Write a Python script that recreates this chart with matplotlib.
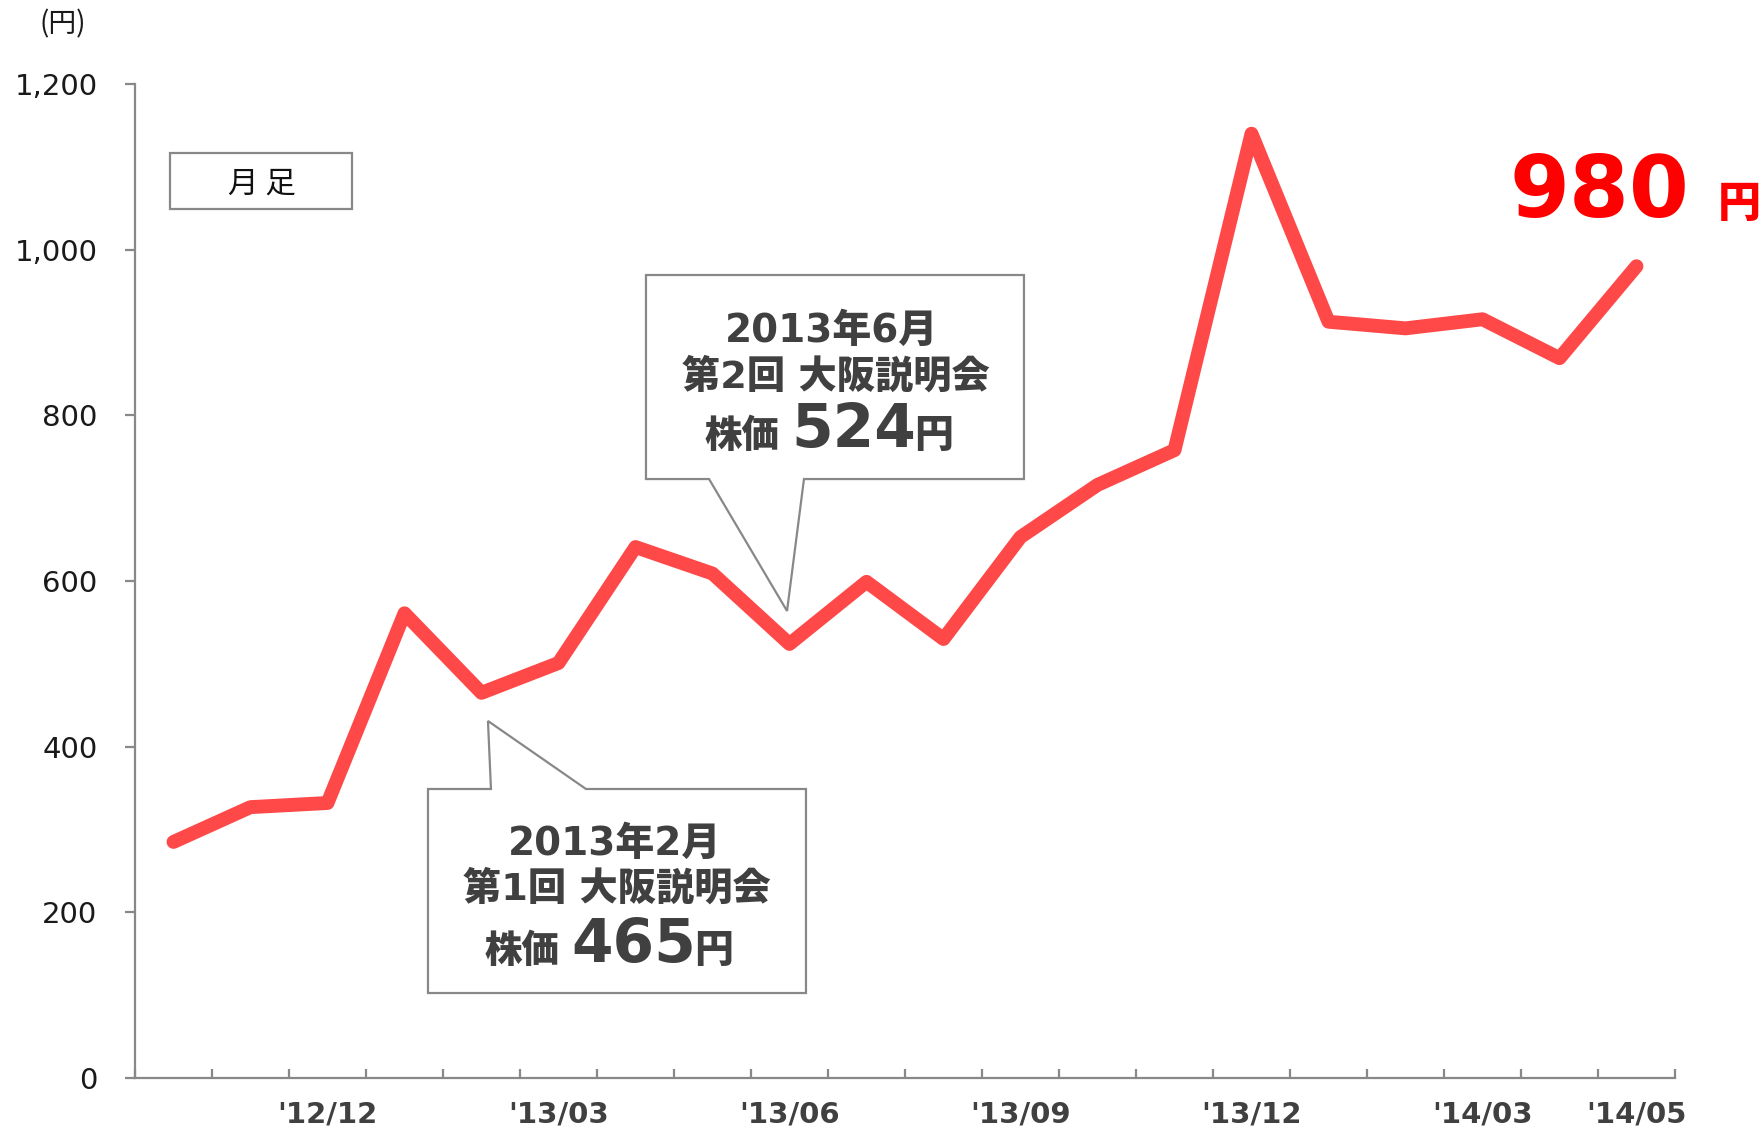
import matplotlib
matplotlib.use("Agg")
import matplotlib.pyplot as plt
from matplotlib.patches import Polygon, Rectangle
from matplotlib.ticker import FuncFormatter
import numpy as np

plt.rcParams['font.family'] = ['DejaVu Sans', 'Noto Sans CJK JP']

# ---- data ----
months = ["'12/10", "'12/11", "'12/12", "'13/01", "'13/02", "'13/03", "'13/04",
          "'13/05", "'13/06", "'13/07", "'13/08", "'13/09", "'13/10", "'13/11",
          "'13/12", "'14/01", "'14/02", "'14/03", "'14/04", "'14/05"]
prices = [285, 327, 332, 561, 465, 501, 641, 609, 524, 599, 530, 653, 716, 758,
          1140, 913, 905, 916, 869, 980]
label_months = ["'12/12", "'13/03", "'13/06", "'13/09", "'13/12", "'14/03", "'14/05"]
y_ticks = [0, 200, 400, 600, 800, 1000, 1200]

LINE = '#ff4848'
GRAY = '#888888'
TXT = '#404040'
W = 'heavy'

fig = plt.figure(figsize=(17.65, 11.29), dpi=100)
ax = fig.add_axes([135/1765, 51/1129, 1540/1765, 994/1129])

x = np.arange(len(months))
ax.plot(x, prices, color=LINE, lw=10, solid_joinstyle='round',
        solid_capstyle='round', zorder=3, clip_on=False)

ax.set_xlim(-0.5, len(months) - 0.5)
ax.set_ylim(0, 1200)

for s in ['top', 'right']:
    ax.spines[s].set_visible(False)
for s in ['left', 'bottom']:
    ax.spines[s].set_color(GRAY)
    ax.spines[s].set_linewidth(1.6)

ax.set_yticks(y_ticks)
ax.yaxis.set_major_formatter(FuncFormatter(lambda v, p: f"{int(v):,}"))
ax.tick_params(axis='y', direction='out', length=7, width=1.6, color=GRAY,
               labelsize=21, labelcolor='#1a1a1a', pad=20)

ax.set_xticks([months.index(m) for m in label_months])
ax.set_xticklabels(label_months, fontweight='bold', color=TXT, fontsize=21)
ax.set_xticks(np.arange(-0.5, len(months), 1), minor=True)
ax.tick_params(axis='x', which='major', length=0, pad=16)
ax.tick_params(axis='x', which='minor', direction='in', length=6.5, width=1.6,
               color=GRAY)

# ---- "(円)" unit ----
fig.text(63/1765, 1 - 24/1129, '(円)', fontsize=20, ha='center', va='center',
         color='#1a1a1a', family=['Noto Sans CJK JP', 'DejaVu Sans'])

# ---- 月足 box ----
ax.add_patch(Rectangle((-0.045, 1049), 2.363, 67.7, facecolor='white',
                       edgecolor=GRAY, lw=1.6, zorder=4, clip_on=False))
ax.text(1.149, 1079, '月 足', fontsize=22, ha='center', va='center',
        color='#111111', zorder=5, family=['Noto Sans CJK JP', 'DejaVu Sans'])

# ---- callout 1 (June 2013) ----
c1 = [(6.136, 969.4), (11.045, 969.4), (11.045, 723.1), (8.188, 723.1),
      (7.968, 563.8), (6.955, 723.1), (6.136, 723.1)]
ax.add_patch(Polygon(c1, closed=True, facecolor='white', edgecolor=GRAY,
                     lw=1.6, zorder=4, clip_on=False, joinstyle='miter'))
ax.text(8.55, 888.5, '2013年6月', fontsize=28, fontweight=W, color=TXT,
        ha='center', va='baseline', zorder=5)
ax.text(8.60, 833, '第2回 大阪説明会', fontsize=27.5, fontweight=W, color=TXT,
        ha='center', va='baseline', zorder=5)
ax.text(6.90, 761.7, '株価', fontsize=27, fontweight=W, color=TXT,
        ha='left', va='baseline', zorder=5)
ax.text(8.03, 761.7, f'{prices[8]}', fontsize=43, fontweight=W, color=TXT,
        ha='left', va='baseline', zorder=5)
ax.text(9.62, 761.7, '円', fontsize=28, fontweight=W, color=TXT,
        ha='left', va='baseline', zorder=5)

# ---- callout 2 (Feb 2013) ----
c2 = [(3.305, 348.9), (4.123, 348.9), (4.084, 431.0), (5.357, 348.9),
      (8.214, 348.9), (8.214, 102.6), (3.305, 102.6)]
ax.add_patch(Polygon(c2, closed=True, facecolor='white', edgecolor=GRAY,
                     lw=1.6, zorder=4, clip_on=False, joinstyle='miter'))
ax.text(5.73, 269.2, '2013年2月', fontsize=28, fontweight=W, color=TXT,
        ha='center', va='baseline', zorder=5)
ax.text(5.76, 214.9, '第1回 大阪説明会', fontsize=27.5, fontweight=W, color=TXT,
        ha='center', va='baseline', zorder=5)
ax.text(4.04, 140, '株価', fontsize=27, fontweight=W, color=TXT,
        ha='left', va='baseline', zorder=5)
ax.text(5.17, 140, f'{prices[4]}', fontsize=43, fontweight=W, color=TXT,
        ha='left', va='baseline', zorder=5)
ax.text(6.76, 140, '円', fontsize=28, fontweight=W, color=TXT,
        ha='left', va='baseline', zorder=5)

# ---- latest price ----
ax.text(17.35, 1039, f'{prices[-1]}', fontsize=62, fontweight=W,
        color='#ff0000', ha='left', va='baseline', zorder=5)
ax.text(20.05, 1039, '円', fontsize=31, fontweight=W, color='#ff0000',
        ha='left', va='baseline', zorder=5)

fig.savefig('out.png', dpi=100)
